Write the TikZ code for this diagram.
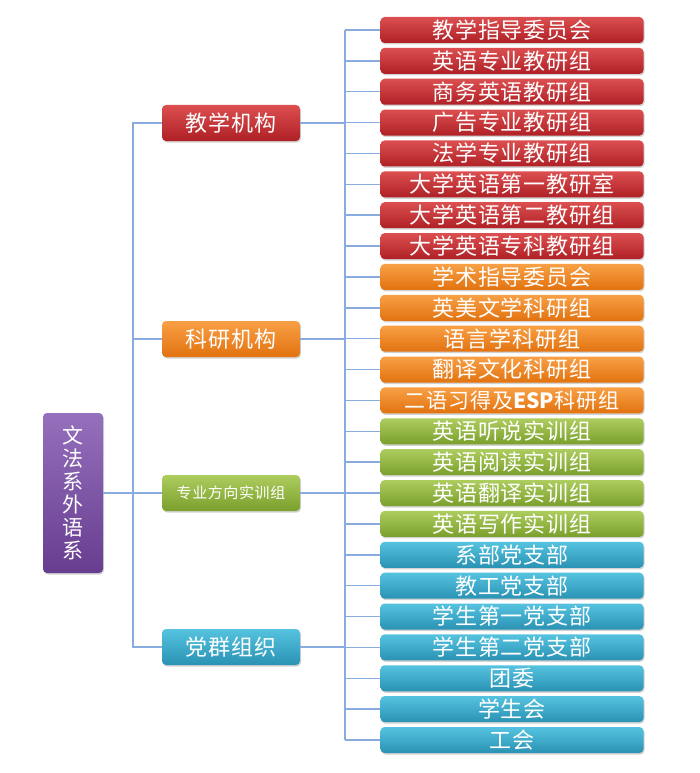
\documentclass[tikz,border=0pt]{standalone}
\usepackage{fontspec}
\newfontfamily\cjk{Noto Sans CJK SC}[LetterSpace=4]
\newfontfamily\cjkplain{Noto Sans CJK SC}
\usetikzlibrary{shadows}
\definecolor{redT}{HTML}{DC4F50}
\definecolor{redB}{HTML}{AE2025}
\definecolor{orgT}{HTML}{F8A046}
\definecolor{orgB}{HTML}{E2720F}
\definecolor{grnT}{HTML}{ADCD5E}
\definecolor{grnB}{HTML}{7A9F2C}
\definecolor{bluT}{HTML}{55C3E0}
\definecolor{bluB}{HTML}{2A92B3}
\definecolor{purT}{HTML}{9570BC}
\definecolor{purB}{HTML}{673D90}
\definecolor{lineC}{HTML}{88ACDF}
\tikzset{
  box/.style={rounded corners=4pt, draw=none, text=white, inner sep=0pt,
    drop shadow={shadow xshift=1pt, shadow yshift=-1.5pt, opacity=0.35}},
  leaf/.style={box, minimum width=263pt, minimum height=26pt,
    font=\cjk\fontsize{22}{22}\selectfont},
  mid/.style={box, minimum width=138pt, minimum height=36pt,
    font=\cjk\fontsize{22}{22}\selectfont},
  redbox/.style={top color=redT, bottom color=redB},
  orgbox/.style={top color=orgT, bottom color=orgB},
  grnbox/.style={top color=grnT, bottom color=grnB},
  blubox/.style={top color=bluT, bottom color=bluB},
  purbox/.style={top color=purT, bottom color=purB},
  conn/.style={draw=lineC, line width=1.5pt}
}
\begin{document}
\begin{tikzpicture}[x=1pt,y=-1pt]
\useasboundingbox (0,0) rectangle (700,773);
% root
\node[box, purbox, minimum width=60pt, minimum height=160pt, align=center,
  font=\cjkplain\fontsize{21}{23}\selectfont] (root) at (73,493) {文\\法\\系\\外\\语\\系};
% mid nodes
\node[mid, redbox] (m1) at (231,123) {教学机构};
\node[mid, orgbox] (m2) at (231,339) {科研机构};
\node[mid, grnbox, font=\cjk\fontsize{15}{15}\selectfont] (m3) at (231,493) {专业方向实训组};
\node[mid, blubox] (m4) at (231,647) {党群组织};
% leaves
\foreach \i/\t/\c in {
  1/教学指导委员会/redbox, 2/英语专业教研组/redbox, 3/商务英语教研组/redbox,
  4/广告专业教研组/redbox, 5/法学专业教研组/redbox, 6/大学英语第一教研室/redbox,
  7/大学英语第二教研组/redbox, 8/大学英语专科教研组/redbox,
  9/学术指导委员会/orgbox, 10/英美文学科研组/orgbox, 11/语言学科研组/orgbox,
  12/翻译文化科研组/orgbox,
  14/英语听说实训组/grnbox, 15/英语阅读实训组/grnbox, 16/英语翻译实训组/grnbox,
  17/英语写作实训组/grnbox,
  18/系部党支部/blubox, 19/教工党支部/blubox, 20/学生第一党支部/blubox,
  21/学生第二党支部/blubox, 22/团委/blubox, 23/学生会/blubox, 24/工会/blubox}{
  \node[leaf, \c] (l\i) at (512, {30+30.87*(\i-1)}) {\t};
}
\node[leaf, orgbox, font=\cjk\fontsize{21}{21}\selectfont] (l13) at (512, {30+30.87*12}) {二语习得及{\cjkplain\bfseries ESP}科研组};
% connectors
\coordinate (j0) at (133,493);
\draw[conn] (root.east) -- (j0);
\foreach \m in {1,2,3,4}{ \draw[conn] (j0) |- (m\m.west); }
\coordinate (k1) at (345,123);
\coordinate (k2) at (345,339);
\coordinate (k3) at (345,493);
\coordinate (k4) at (345,647);
\foreach \m in {1,2,3,4}{ \draw[conn] (m\m.east) -- (k\m); }
\draw[conn] (l1.west -| k1) -- (l24.west -| k1);
\foreach \i in {1,...,24}{ \draw[conn] (l\i.west -| k1) -- (l\i.west); }
\end{tikzpicture}
\end{document}
